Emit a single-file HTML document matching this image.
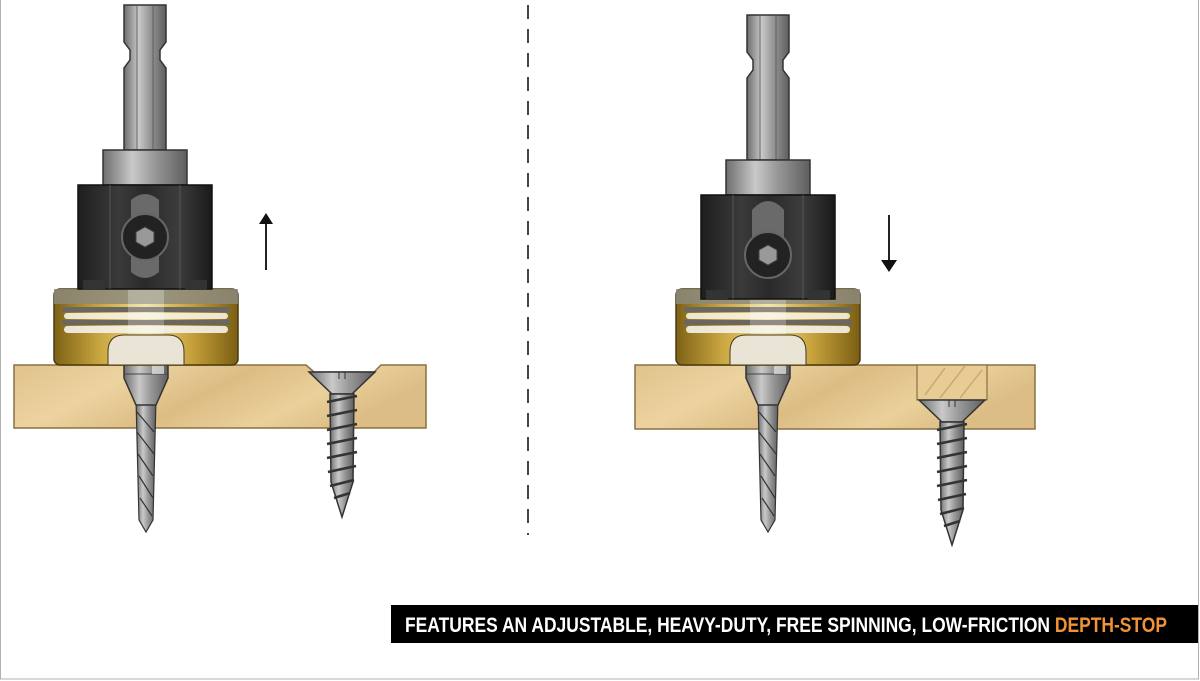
<!DOCTYPE html>
<html><head><meta charset="utf-8"><style>
html,body{margin:0;padding:0;background:#fff;}
svg{display:block;}
</style></head><body>
<svg width="1200" height="681" viewBox="0 0 1200 681" xmlns="http://www.w3.org/2000/svg">
<defs>
<linearGradient id="steel" x1="0" x2="1" y1="0" y2="0">
<stop offset="0" stop-color="#6e6e6e"/><stop offset="0.35" stop-color="#c9c9c9"/><stop offset="0.6" stop-color="#9a9a9a"/><stop offset="1" stop-color="#5e5e5e"/></linearGradient>
<linearGradient id="black" x1="0" x2="1">
<stop offset="0" stop-color="#1e1e1e"/><stop offset="0.3" stop-color="#3a3a3a"/><stop offset="0.5" stop-color="#2a2a2a"/><stop offset="0.75" stop-color="#3c3c3c"/><stop offset="1" stop-color="#1a1a1a"/></linearGradient>
<linearGradient id="gold" x1="0" x2="1">
<stop offset="0" stop-color="#7d6216"/><stop offset="0.25" stop-color="#c9a640"/><stop offset="0.5" stop-color="#f0dc90"/><stop offset="0.75" stop-color="#c5a03a"/><stop offset="1" stop-color="#7a5e14"/></linearGradient>
<linearGradient id="wood" x1="0" y1="0" x2="1" y2="0.3">
<stop offset="0" stop-color="#e0c38c"/><stop offset="0.3" stop-color="#ecd3a0"/><stop offset="0.55" stop-color="#dcbd84"/><stop offset="0.8" stop-color="#ead09a"/><stop offset="1" stop-color="#dcbd86"/></linearGradient>
<g id="tool">
  <path d="M-21,5 L21,5 L21,42 L15,50 L15,60 L21,68 L21,150 L-21,150 L-21,68 L-15,60 L-15,50 L-21,42 Z" fill="url(#steel)" stroke="#333" stroke-width="1.5"/>
  <line x1="-8" y1="5" x2="-8" y2="150" stroke="#555" stroke-width="0.8"/>
  <line x1="8" y1="5" x2="8" y2="150" stroke="#555" stroke-width="0.8"/>
  <rect x="-42" y="150" width="84" height="35" fill="url(#steel)" stroke="#333" stroke-width="1.5"/>
  <rect x="-67" y="185" width="134" height="104" fill="url(#black)" stroke="#111" stroke-width="1.5"/>
  <line x1="-35" y1="185" x2="-35" y2="289" stroke="#555" stroke-width="1"/>
  <line x1="35" y1="185" x2="35" y2="289" stroke="#555" stroke-width="1"/>
  <rect x="-62" y="280" width="22" height="10" fill="#333"/>
  <rect x="40" y="280" width="22" height="10" fill="#333"/>
</g>
<g id="ring">
  <rect x="-92" y="289" width="184" height="76" rx="6" fill="url(#gold)" stroke="#4a3a10" stroke-width="1.5"/>
  <rect x="-92" y="289" width="184" height="15" fill="#8c8a7c" opacity="0.85"/>
  <rect x="-84" y="307" width="168" height="5" fill="#6a6660"/>
  <rect x="-84" y="320" width="168" height="5" fill="#6a6660"/>
  <g fill="#f4f2ea" opacity="0.9">
    <rect x="-82" y="313" width="164" height="6" rx="3"/>
    <rect x="-82" y="326" width="164" height="7" rx="3.5"/>
  </g>
  <rect x="-18" y="289" width="36" height="50" fill="#fff" opacity="0.25"/>
  <path d="M-38,365 L-38,352 Q-38,335 -22,335 L22,335 Q38,335 38,352 L38,365 Z" fill="#e9e4d6" stroke="#4a3a10" stroke-width="1"/>
</g>
<g id="bit">
  <path d="M-10,398 L10,398 L7,520 L0,532 L-7,520 Z" fill="url(#steel)" stroke="#333" stroke-width="1.2"/>
  <path d="M-9,412 L8,432 M-9,432 L8,454 M-8,454 L7,476 M-7,476 L7,498 M-6,498 L6,516" stroke="#333" stroke-width="1.2" fill="none"/>
  <path d="M-22,336 L22,336 L22,378 L10,405 L-10,405 L-22,378 Z" fill="url(#steel)" stroke="#333" stroke-width="1.5"/>
  <line x1="-22" y1="374" x2="22" y2="374" stroke="#444" stroke-width="1"/>
  <path d="M6,340 L18,340 L18,374 L6,374 Z" fill="#e8e8e8" opacity="0.7"/>
</g>
<g id="screw">
  <path d="M-33,0 L33,0 L10,22 L-10,22 Z" fill="url(#steel)" stroke="#333" stroke-width="1.5"/>
  <line x1="-3" y1="0" x2="-3" y2="7" stroke="#333"/><line x1="3" y1="0" x2="3" y2="7" stroke="#333"/>
  <path d="M-12,22 L12,22 L11,110 L0,145 L-11,110 Z" fill="url(#steel)" stroke="#333" stroke-width="1.5"/>
  <path d="M-15,30 L15,24 M-15,44 L15,38 M-15,58 L15,52 M-15,72 L15,66 M-15,86 L15,80 M-14,100 L14,94 M-12,114 L12,108 M-8,126 L8,121" stroke="#333" stroke-width="2.5" fill="none"/>
</g>
</defs>

<rect x="0.5" y="-1" width="1198" height="680" fill="none" stroke="#b0b0b0" stroke-width="1"/>

<line x1="528" y1="5" x2="528" y2="535" stroke="#444" stroke-width="2" stroke-dasharray="14,10"/>

<!-- LEFT -->
<path d="M14,365 L306,365 L314,372 L374,372 L381,365 L426,365 L426,428 L14,428 Z" fill="url(#wood)" stroke="#8a7040" stroke-width="1.5"/>
<use href="#screw" x="342" y="372"/>
<use href="#bit" x="146" y="0"/>
<use href="#ring" x="146" y="0"/>
<use href="#tool" x="145" y="0"/>
<path d="M131,200 Q145,188 159,200 L159,272 Q145,284 131,272 Z" fill="#6a6a6a"/>
<circle cx="145" cy="237" r="23" fill="#222" stroke="#666" stroke-width="2"/>
<polygon points="145,227 154,232 154,242 145,247 136,242 136,232" fill="#999" stroke="#444"/>
<line x1="266" y1="270" x2="266" y2="222" stroke="#222" stroke-width="2"/>
<polygon points="259,224 273,224 266,213" fill="#111"/>

<!-- RIGHT -->
<rect x="635" y="365" width="400" height="64" fill="url(#wood)" stroke="#8a7040" stroke-width="1.5"/>
<rect x="917" y="365" width="70" height="35" fill="#e8cc96" stroke="#8a7040" stroke-width="1.2"/>
<path d="M925,395 L945,368 M940,398 L965,366 M960,398 L982,370" stroke="#c9ab70" stroke-width="1.5"/>
<use href="#screw" x="952" y="400"/>
<use href="#bit" x="768" y="0"/>
<use href="#ring" x="768" y="0"/>
<use href="#tool" x="768" y="10"/>
<path d="M752,210 Q768,192 784,210 L784,262 L752,262 Z" fill="#6a6a6a"/>
<circle cx="768" cy="255" r="23" fill="#222" stroke="#666" stroke-width="2"/>
<polygon points="768,245 777,250 777,260 768,265 759,260 759,250" fill="#999" stroke="#444"/>
<line x1="889" y1="215" x2="889" y2="262" stroke="#222" stroke-width="2"/>
<polygon points="881,260 897,260 889,272" fill="#111"/>

<rect x="391" y="605" width="807" height="38" fill="#000"/>
<text x="405" y="632" font-family="'Liberation Sans Narrow','Liberation Sans',sans-serif" font-weight="bold" font-size="21" fill="#fff" textLength="762" lengthAdjust="spacingAndGlyphs">FEATURES AN ADJUSTABLE, HEAVY-DUTY, FREE SPINNING, LOW-FRICTION <tspan fill="#f0923a">DEPTH-STOP</tspan></text>
</svg>
</body></html>
